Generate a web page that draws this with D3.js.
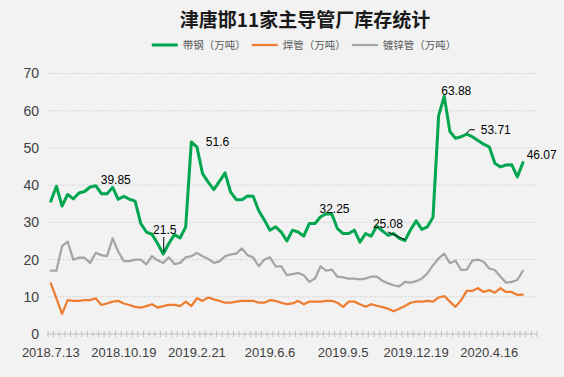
<!DOCTYPE html>
<html>
<head>
<meta charset="utf-8">
<script src="https://cdn.jsdelivr.net/npm/d3@7"></script>
<style>
  body { margin: 0; background: #f2f2f2; }
  svg { display: block; }
</style>
</head>
<body>
<div id="chart"></div>
<script>
var title = "津唐邯11家主导管厂库存统计";
var seriesNames = ["带钢（万吨）", "焊管（万吨）", "镀锌管（万吨）"];
var seriesColors = ["#00a650", "#ed7d31", "#a5a5a5"];
var tickLabels = ["2018.7.13", "2018.10.19", "2019.2.21", "2019.6.6", "2019.9.5", "2019.12.19", "2020.4.16"];
var tickEvery = 13;
var nCategories = 87;
var yTicks = [0, 10, 20, 30, 40, 50, 60, 70];

// 带钢
var strip = [35.7, 39.7, 34.4, 37.5, 36.3, 37.9, 38.3, 39.5, 39.85, 37.7,
  37.7, 39.4, 36.2, 37.0, 36.2, 35.7, 29.7, 27.4, 26.8, 24.3,
  21.5, 24.3, 26.7, 25.8, 28.8, 51.6, 50.2, 43.1, 40.8, 38.8,
  41.0, 43.3, 38.1, 36.1, 36.1, 37.1, 37.0, 33.1, 30.6, 27.9,
  28.8, 27.4, 25.0, 27.9, 27.4, 26.3, 29.7, 29.7, 31.5, 32.3,
  32.25, 28.3, 27.0, 27.0, 27.9, 24.7, 27.0, 26.3, 29.0, 27.7,
  26.5, 27.0, 25.7, 25.08, 28.0, 30.4, 28.1, 28.8, 31.4, 58.7,
  63.88, 54.4, 52.6, 53.0, 53.71, 53.0, 52.0, 51.0, 50.3, 45.9,
  44.9, 45.4, 45.5, 42.2, 46.07];
// 焊管
var welded = [13.6, 9.6, 5.4, 9.1, 8.9, 8.9, 9.1, 9.1, 9.6, 7.8,
  8.2, 8.7, 8.9, 8.2, 7.8, 7.3, 7.1, 7.5, 8.0, 7.1,
  7.5, 7.8, 7.8, 7.5, 8.7, 7.5, 9.6, 8.9, 9.8, 9.3,
  8.9, 8.4, 8.4, 8.7, 8.9, 8.9, 8.9, 8.4, 8.4, 9.1,
  8.9, 8.4, 8.0, 8.2, 8.9, 8.0, 8.7, 8.7, 8.7, 8.9,
  8.9, 8.4, 7.3, 8.7, 8.7, 8.0, 7.3, 8.0, 7.6, 7.2,
  6.8, 6.1, 6.8, 7.5, 8.4, 8.7, 8.7, 8.9, 8.7, 9.8,
  10.2, 8.7, 7.3, 9.1, 11.6, 11.6, 12.3, 11.3, 11.8, 11.1,
  12.3, 11.3, 11.3, 10.5, 10.6];
// 镀锌管
var galv = [17.0, 17.0, 23.6, 24.8, 20.0, 20.5, 20.5, 19.1, 21.8, 21.2,
  20.9, 25.7, 22.1, 19.6, 19.6, 20.0, 20.0, 18.7, 20.9, 19.8,
  19.1, 20.6, 18.8, 19.1, 20.6, 20.9, 21.8, 20.9, 20.2, 19.1,
  19.5, 20.9, 21.4, 21.6, 23.0, 21.2, 20.6, 18.2, 20.0, 20.6,
  18.2, 18.2, 15.8, 16.1, 16.4, 15.8, 14.0, 14.9, 18.2, 17.0,
  17.3, 15.4, 15.2, 14.9, 14.9, 14.7, 14.9, 15.4, 15.4, 14.3,
  13.6, 13.1, 12.8, 14.0, 13.8, 14.2, 14.9, 16.3, 18.5, 20.3,
  21.6, 19.0, 19.7, 17.2, 17.3, 19.7, 20.0, 19.4, 17.6, 17.2,
  15.4, 13.8, 14.0, 14.5, 17.0];

var seriesData = [strip, welded, galv];
var labelIdx = [8, 20, 25, 50, 63, 70, 74, 84];

var width = 564, height = 377;
var margin = { top: 73.5, right: 27, bottom: 43, left: 48 };

var svg = d3
  .select("#chart")
  .append("svg")
  .attr("width", width)
  .attr("height", height)
  .style("font-family", "'Liberation Sans', Arial, sans-serif");

svg.append("rect").attr("width", width).attr("height", height).attr("fill", "#f2f2f2");

var x = d3
  .scaleBand()
  .domain(d3.range(nCategories))
  .range([margin.left, width - margin.right]);
var cx = function (i) {
  return x(i) + x.bandwidth() / 2;
};
var y = d3
  .scaleLinear()
  .domain([0, 70])
  .range([height - margin.bottom, margin.top]);

// gridlines
svg
  .append("g")
  .selectAll("line")
  .data(yTicks.slice(1))
  .enter()
  .append("line")
  .attr("x1", margin.left)
  .attr("x2", width - margin.right)
  .attr("y1", function (d) { return y(d); })
  .attr("y2", function (d) { return y(d); })
  .attr("stroke", "#cfcfcf")
  .attr("stroke-width", 1)
  .attr("stroke-dasharray", "1.5,1.5");

// y axis labels
var yAxis = svg
  .append("g")
  .attr("transform", "translate(" + margin.left + ",0)")
  .call(d3.axisLeft(y).tickValues(yTicks).tickSize(0).tickPadding(9));
yAxis.select(".domain").remove();
yAxis.selectAll("text").style("font-size", "14px").attr("fill", "#404040");

// x axis line with tick marks between categories
var xAxisG = svg.append("g");
xAxisG
  .append("line")
  .attr("x1", margin.left)
  .attr("x2", width - margin.right)
  .attr("y1", y(0))
  .attr("y2", y(0))
  .attr("stroke", "#bfbfbf");
xAxisG
  .selectAll(".tk")
  .data(d3.range(nCategories + 1))
  .enter()
  .append("line")
  .attr("class", "tk")
  .attr("x1", function (d) { return margin.left + d * x.step(); })
  .attr("x2", function (d) { return margin.left + d * x.step(); })
  .attr("y1", y(0) - 3)
  .attr("y2", y(0) + 3)
  .attr("stroke", "#bfbfbf");
xAxisG
  .selectAll(".xl")
  .data(tickLabels)
  .enter()
  .append("text")
  .attr("class", "xl")
  .attr("x", function (d, i) { return cx(i * tickEvery); })
  .attr("y", y(0) + 23)
  .attr("text-anchor", "middle")
  .style("font-size", "13px")
  .attr("fill", "#404040")
  .text(function (d) { return d; });

// lines
var line = d3
  .line()
  .x(function (d, i) { return cx(i); })
  .y(function (d) { return y(d); });

var widths = [3, 2.25, 2.25];
[2, 1, 0].forEach(function (k) {
  svg
    .append("path")
    .datum(seriesData[k])
    .attr("d", line)
    .attr("fill", "none")
    .attr("stroke", seriesColors[k])
    .attr("stroke-width", widths[k])
    .attr("stroke-linejoin", "round")
    .attr("stroke-linecap", "round");
});

// data labels on 带钢
var labelPos = {
  8: { dx: 20, dy: -1.5, anchor: "middle" },
  20: { dx: 1.5, dy: -20, anchor: "middle", leader: [[0.5, -17], [0.5, -2]] },
  25: { dx: 14.5, dy: 4.5, anchor: "start" },
  50: { dx: 2.7, dy: -1.2, anchor: "middle" },
  63: { dx: -17, dy: -13, anchor: "middle", leader: [[-17, -8.7], [0, -1]] },
  70: { dx: 12, dy: -1.7, anchor: "middle" },
  74: { dx: 14, dy: 0, anchor: "start", leader: [[0, -1], [3, -4.4], [8, -4.4]] },
  84: { dx: 3.7, dy: -3.7, anchor: "start" }
};
var lbl = svg.append("g");
labelIdx.forEach(function (i) {
  var p = labelPos[i];
  var px = cx(i), py = y(strip[i]);
  if (p.leader) {
    lbl
      .append("path")
      .attr("d", d3.line()(p.leader.map(function (q) { return [px + q[0], py + q[1]]; })))
      .attr("fill", "none")
      .attr("stroke", "#000")
      .attr("stroke-width", 1);
  }
  lbl
    .append("text")
    .attr("x", px + p.dx)
    .attr("y", py + p.dy)
    .attr("text-anchor", p.anchor)
    .style("font-size", "12px")
    .attr("fill", "#000")
    .text(strip[i]);
});

// title
svg
  .append("text")
  .attr("x", 305)
  .attr("y", 27)
  .attr("text-anchor", "middle")
  .style("font-family", "'Noto Sans CJK SC', sans-serif")
  .style("font-size", "19px")
  .style("font-weight", "bold")
  .attr("fill", "#1a1a1a")
  .text(title);

// legend
var legend = svg.append("g").style("font-family", "'Noto Sans CJK SC', sans-serif");
var cursor = 0;
var items = seriesNames.map(function (name, k) {
  var g = legend.append("g");
  g.append("line")
    .attr("x1", 0).attr("x2", 26)
    .attr("y1", 0).attr("y2", 0)
    .attr("stroke", seriesColors[k])
    .attr("stroke-width", widths[k]);
  var t = g.append("text")
    .attr("x", 31)
    .attr("dy", "0.35em")
    .style("font-size", "10.5px")
    .attr("fill", "#595959")
    .text(name);
  var w = 31 + t.node().getComputedTextLength();
  g.attr("transform", "translate(" + cursor + ",0)");
  cursor += w + 6;
  return g;
});
var total = cursor - 6;
legend.attr("transform", "translate(" + (304 - total / 2) + ",45)");
</script>
</body>
</html>
